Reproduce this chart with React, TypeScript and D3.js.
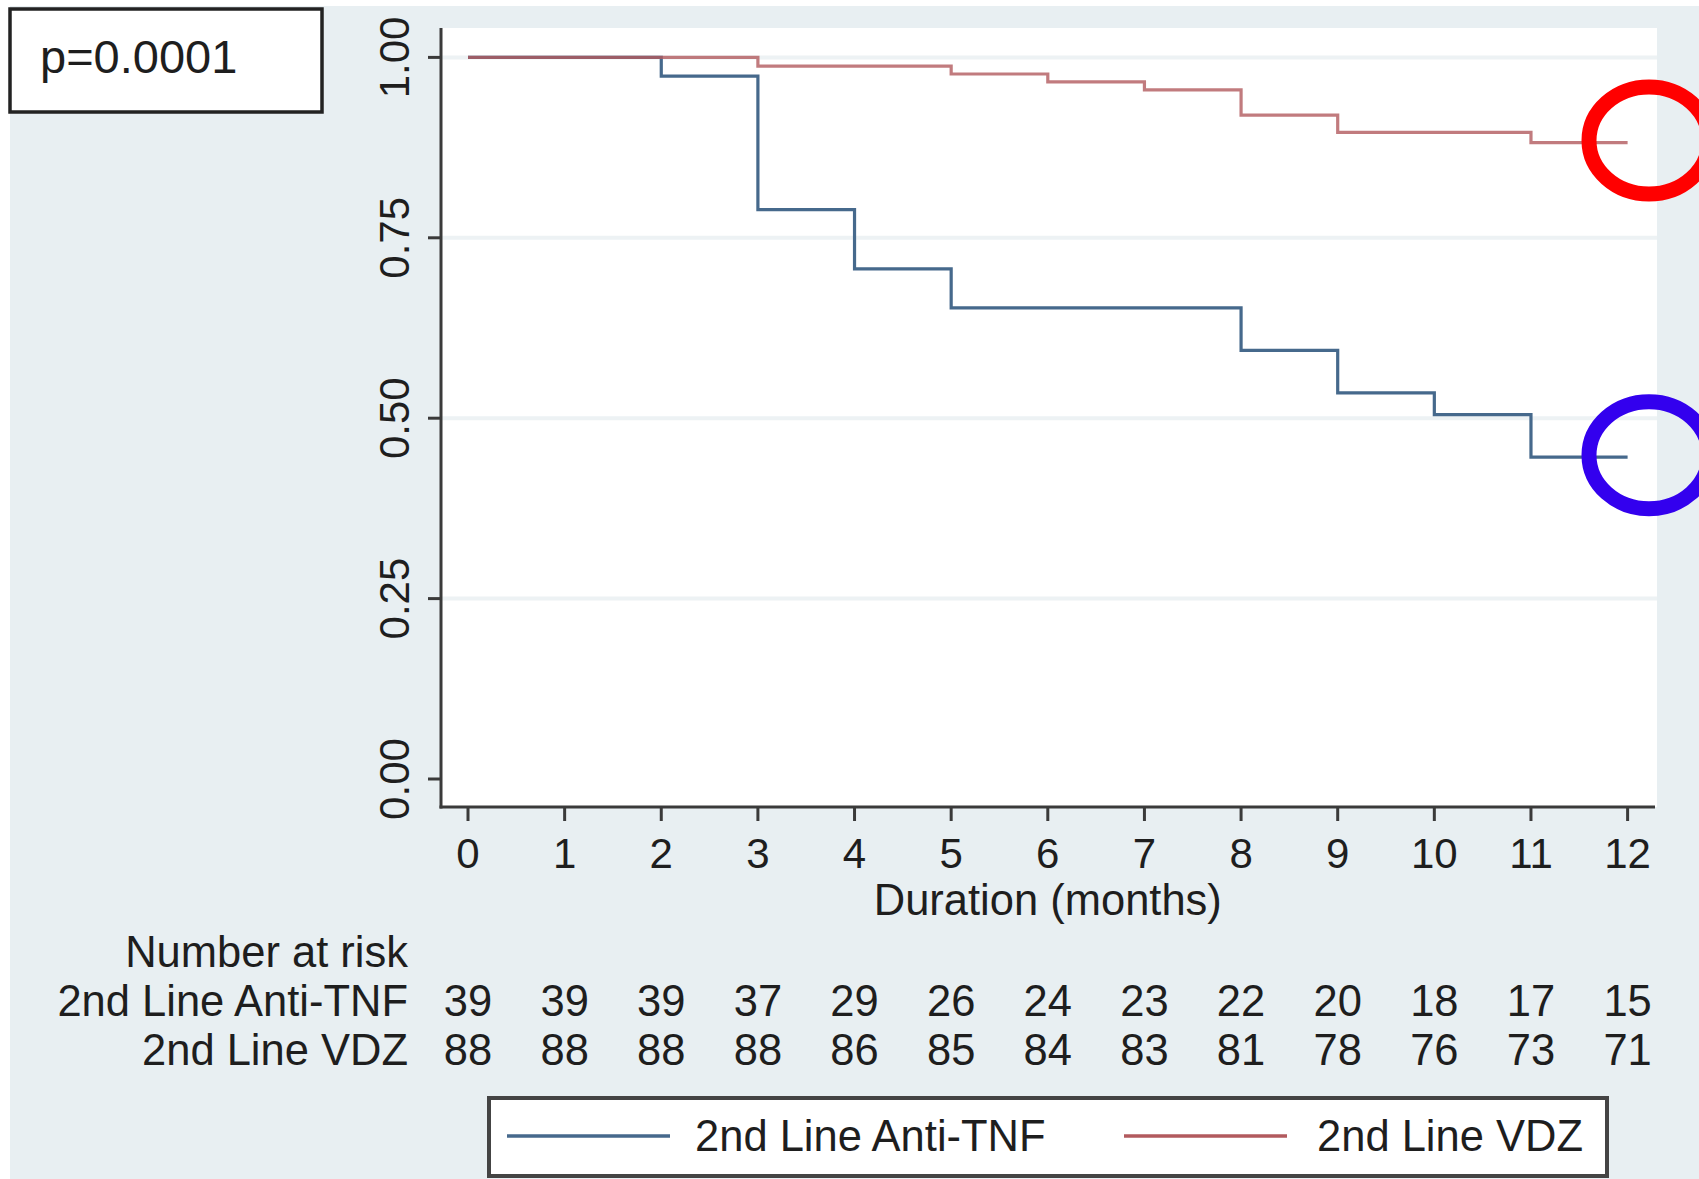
import React from "react";
import * as d3 from "d3";

const months = [0, 1, 2, 3, 4, 5, 6, 7, 8, 9, 10, 11, 12];
const yTicks = [0, 0.25, 0.5, 0.75, 1.0];
const gridTicks = [0.25, 0.5, 0.75, 1.0];

const antiTnfTimes = [0, 2, 3, 4, 5, 8, 9, 10, 11, 12];
const antiTnfSurv = [1.0, 0.974, 0.789, 0.707, 0.653, 0.594, 0.535, 0.505, 0.446, 0.446];

const vdzTimes = [0, 3, 5, 6, 7, 8, 9, 11, 12];
const vdzSurv = [1.0, 0.988, 0.977, 0.966, 0.955, 0.92, 0.896, 0.882, 0.882];

const riskAntiTnf = [39, 39, 39, 37, 29, 26, 24, 23, 22, 20, 18, 17, 15];
const riskVdz = [88, 88, 88, 88, 86, 85, 84, 83, 81, 78, 76, 73, 71];

const seriesNames = ["2nd Line Anti-TNF", "2nd Line VDZ"];
const pValueText = "p=0.0001";
const xTitle = "Duration (months)";
const riskTitle = "Number at risk";

const FONT = "'Liberation Sans', Arial, Helvetica, sans-serif";
const BLUE = "#46698c";
const RED = "#b25a5e";
const TEXT = "#1e1e1e";
const AXIS = "#3a3a3a";
const FS = 43.5;

export default function App() {
  const W = 1699;
  const H = 1179;
  const x = d3.scaleLinear().domain([0, 12]).range([468, 1627.6]);
  const y = d3.scaleLinear().domain([0, 1]).range([779, 57.4]);
  const line = d3
    .line<[number, number]>()
    .x((d) => x(d[0]))
    .y((d) => y(d[1]))
    .curve(d3.curveStepAfter);

  const blueData = antiTnfTimes.map((t, i) => [t, antiTnfSurv[i]] as [number, number]);
  const redData = vdzTimes.map((t, i) => [t, vdzSurv[i]] as [number, number]);

  const plotL = 441;
  const plotR = 1657;
  const plotT = 28;
  const plotB = 807;

  return (
    <svg
      width={W}
      height={H}
      style={{ position: "absolute", left: 0, top: 0, background: "#ffffff" }}
      fontFamily={FONT}
    >
      <rect x={10} y={6} width={W - 10} height={H - 6} fill="#e8eff2" />
      <rect x={plotL} y={plotT} width={plotR - plotL} height={plotB - plotT} fill="#ffffff" />

      {gridTicks.map((t) => (
        <line key={"g" + t} x1={plotL} x2={plotR} y1={y(t)} y2={y(t)} stroke="#edf2f4" strokeWidth={4} />
      ))}

      <path d={line(blueData) || ""} fill="none" stroke={BLUE} strokeWidth={3.2} />
      <path d={line(redData) || ""} fill="none" stroke={RED} strokeWidth={3.2} strokeOpacity={0.8} />

      {/* axes */}
      <line x1={plotL} x2={plotL} y1={plotT} y2={plotB + 1.5} stroke={AXIS} strokeWidth={3} />
      <line x1={plotL - 1.5} x2={1655} y1={plotB} y2={plotB} stroke={AXIS} strokeWidth={3} />

      {yTicks.map((t) => (
        <g key={"y" + t}>
          <line x1={plotL - 13} x2={plotL} y1={y(t)} y2={y(t)} stroke={AXIS} strokeWidth={3} />
          <text
            transform={`translate(409,${y(t)}) rotate(-90)`}
            textAnchor="middle"
            fontSize={42}
            fill={TEXT}
          >
            {t.toFixed(2)}
          </text>
        </g>
      ))}

      {months.map((m) => (
        <g key={"x" + m}>
          <line x1={x(m)} x2={x(m)} y1={plotB} y2={plotB + 14} stroke={AXIS} strokeWidth={3} />
          <text x={x(m)} y={868} textAnchor="middle" fontSize={42} fill={TEXT}>
            {m}
          </text>
        </g>
      ))}

      <text x={x(6)} y={915} textAnchor="middle" fontSize={FS} fill={TEXT}>
        {xTitle}
      </text>

      {/* number at risk */}
      <text x={408} y={967} textAnchor="end" fontSize={FS} fill={TEXT}>
        {riskTitle}
      </text>
      <text x={408} y={1016} textAnchor="end" fontSize={FS} fill={TEXT}>
        {seriesNames[0]}
      </text>
      <text x={408} y={1065} textAnchor="end" fontSize={FS} fill={TEXT}>
        {seriesNames[1]}
      </text>
      {riskAntiTnf.map((n, i) => (
        <text key={"ra" + i} x={x(months[i])} y={1016} textAnchor="middle" fontSize={FS} fill={TEXT}>
          {n}
        </text>
      ))}
      {riskVdz.map((n, i) => (
        <text key={"rv" + i} x={x(months[i])} y={1065} textAnchor="middle" fontSize={FS} fill={TEXT}>
          {n}
        </text>
      ))}

      {/* legend */}
      <rect x={489} y={1098} width={1118} height={78} fill="#ffffff" stroke="#444" strokeWidth={4} />
      <line x1={507} x2={670} y1={1136} y2={1136} stroke={BLUE} strokeWidth={3.5} />
      <text x={695} y={1151} fontSize={FS} fill={TEXT}>
        {seriesNames[0]}
      </text>
      <line x1={1124} x2={1287} y1={1136} y2={1136} stroke={RED} strokeWidth={3.5} />
      <text x={1317} y={1151} fontSize={FS} fill={TEXT}>
        {seriesNames[1]}
      </text>

      {/* p-value box */}
      <rect x={10} y={9} width={312} height={103} fill="#ffffff" stroke="#222" strokeWidth={3.5} />
      <text x={40} y={73} fontSize={47} fill={TEXT}>
        {pValueText}
      </text>

      {/* annotation circles */}
      <ellipse cx={1649} cy={y(vdzSurv[vdzSurv.length - 1]) - 2} rx={60} ry={53.5} fill="none" stroke="#ff0000" strokeWidth={15} />
      <ellipse cx={1649} cy={y(antiTnfSurv[antiTnfSurv.length - 1]) - 2} rx={60} ry={53.5} fill="none" stroke="#3300ee" strokeWidth={15} />
    </svg>
  );
}
